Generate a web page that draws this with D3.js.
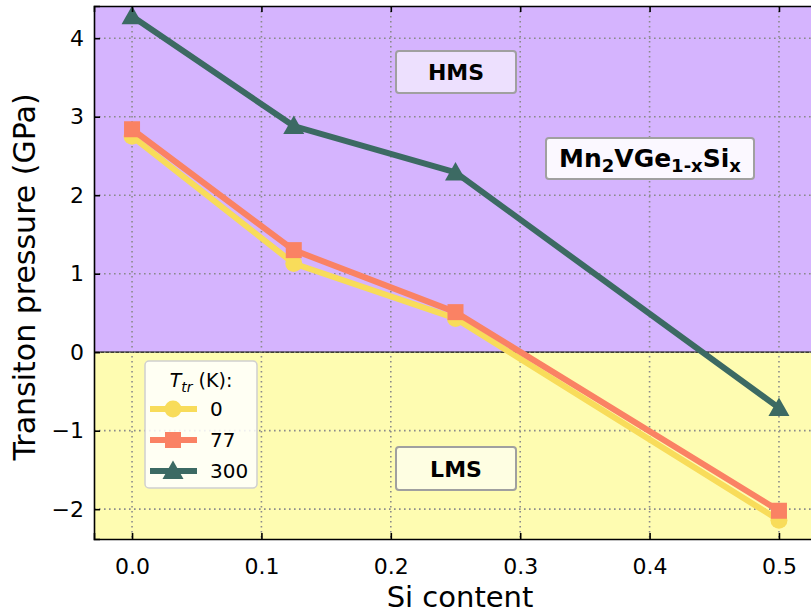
<!DOCTYPE html>
<html>
<head>
<meta charset="utf-8">
<script src="https://cdn.jsdelivr.net/npm/d3@7"></script>
<style>
  body { margin: 0; background: #fff; }
  svg { font-family: "DejaVu Sans", sans-serif; }
</style>
</head>
<body>
<div id="chart"></div>
<script>
// data
var siContent = [0, 0.125, 0.25, 0.5];
var p0K   = [2.75, 1.13, 0.43, -2.14];
var p77K  = [2.84, 1.30, 0.51, -2.02];
var p300K = [4.28, 2.88, 2.29, -0.71];
var seriesNames = ["0", "77", "300"];
var xTicks = [0, 0.1, 0.2, 0.3, 0.4, 0.5];
var yTicks = [-2, -1, 0, 1, 2, 3, 4];

var width = 811, height = 614;
var colors = ["#f8dc5a", "#fa8264", "#3c6a63"];
var shapes = ["circle", "square", "triangle"];

var x = d3.scaleLinear().domain([-0.0294, 0.5294]).range([94, 817]);
var y = d3.scaleLinear().domain([-2.38, 4.41]).range([539, 6]);

var svg = d3.select("#chart").append("svg")
    .attr("width", width)
    .attr("height", height);

// background regions
svg.append("rect")
    .attr("x", x(-0.0294)).attr("y", y(4.41))
    .attr("width", x(0.5294) - x(-0.0294)).attr("height", y(0) - y(4.41))
    .attr("fill", "#d5b4fe");
svg.append("rect")
    .attr("x", x(-0.0294)).attr("y", y(0))
    .attr("width", x(0.5294) - x(-0.0294)).attr("height", y(-2.38) - y(0))
    .attr("fill", "#fefcb1");
svg.append("line")
    .attr("x1", x(-0.0294)).attr("x2", x(0.5294))
    .attr("y1", y(0)).attr("y2", y(0))
    .attr("stroke", "#000").attr("stroke-width", 1.3);

// grid
var grid = svg.append("g").attr("class", "grid");
grid.selectAll("line.gx").data(xTicks).enter().append("line")
    .attr("x1", function(d) { return x(d); }).attr("x2", function(d) { return x(d); })
    .attr("y1", y(4.41)).attr("y2", y(-2.38))
    .attr("stroke", "#8a8a8a").attr("stroke-width", 1.6)
    .attr("stroke-dasharray", "1.6,3.4");
grid.selectAll("line.gy").data(yTicks).enter().append("line")
    .attr("x1", x(-0.0294)).attr("x2", x(0.5294))
    .attr("y1", function(d) { return y(d); }).attr("y2", function(d) { return y(d); })
    .attr("stroke", "#8a8a8a").attr("stroke-width", 1.6)
    .attr("stroke-dasharray", "1.6,3.4");

// text boxes
function labelBox(cx, cy, w, h, fill) {
  svg.append("rect")
      .attr("x", cx - w / 2).attr("y", cy - h / 2)
      .attr("width", w).attr("height", h)
      .attr("rx", 3)
      .attr("fill", fill).attr("stroke", "#a0a0a0").attr("stroke-width", 2);
}
labelBox(456, 72, 120, 42, "#ede0fe");
svg.append("text").attr("x", 456).attr("y", 80).attr("text-anchor", "middle")
    .attr("font-size", 22).attr("font-weight", "bold").text("HMS");
labelBox(456, 468.5, 120, 43, "#fefee2");
svg.append("text").attr("x", 456).attr("y", 477).attr("text-anchor", "middle")
    .attr("font-size", 22).attr("font-weight", "bold").text("LMS");
labelBox(650, 158.5, 208, 41, "#fbf8ff");
var formula = svg.append("text").attr("x", 650).attr("y", 167).attr("text-anchor", "middle")
    .attr("font-size", 25).attr("font-weight", "bold");
formula.append("tspan").text("Mn");
formula.append("tspan").attr("font-size", 18).attr("dy", 5).text("2");
formula.append("tspan").attr("dy", -5).text("VGe");
formula.append("tspan").attr("font-size", 18).attr("dy", 5).text("1-x");
formula.append("tspan").attr("dy", -5).text("Si");
formula.append("tspan").attr("font-size", 18).attr("dy", 5).text("x");

// series
var series = [p0K, p77K, p300K];
var line = d3.line()
    .x(function(d, i) { return x(siContent[i]); })
    .y(function(d) { return y(d); });

function marker(g, kind, color) {
  if (kind === "circle") {
    g.append("circle").attr("r", 8.5).attr("fill", color);
  } else if (kind === "square") {
    g.append("rect").attr("x", -8).attr("y", -8).attr("width", 16).attr("height", 16).attr("fill", color);
  } else {
    g.append("path").attr("d", "M0,-10.5L10.5,8L-10.5,8Z").attr("fill", color);
  }
}

series.forEach(function(vals, k) {
  var g = svg.append("g");
  g.append("path")
      .datum(vals)
      .attr("d", line)
      .attr("fill", "none")
      .attr("stroke", colors[k])
      .attr("stroke-width", 6)
      .attr("stroke-linejoin", "round");
  vals.forEach(function(v, i) {
    var m = g.append("g").attr("transform", "translate(" + x(siContent[i]) + "," + y(v) + ")");
    marker(m, shapes[k], colors[k]);
  });
});

// axes with inward ticks
var xAxis = svg.append("g").attr("transform", "translate(0," + y(-2.38) + ")")
    .call(d3.axisBottom(x).tickValues(xTicks).tickSize(-6).tickPadding(19).tickFormat(d3.format(".1f")));
var xTop = svg.append("g").attr("transform", "translate(0," + y(4.41) + ")")
    .call(d3.axisTop(x).tickValues(xTicks).tickSize(-6).tickFormat(""));
var yAxis = svg.append("g").attr("transform", "translate(" + x(-0.0294) + ",0)")
    .call(d3.axisLeft(y).tickValues(yTicks).tickSize(-6).tickPadding(10)
      .tickFormat(function(d) { return d < 0 ? "\u2212" + Math.abs(d) : d; }));
[xAxis, xTop, yAxis].forEach(function(a) {
  a.select(".domain").attr("stroke", "#000").attr("stroke-width", 1.6);
  a.selectAll(".tick line").attr("stroke", "#000").attr("stroke-width", 1.6);
  a.selectAll(".tick text").attr("font-size", 22).attr("fill", "#000")
      .attr("font-family", "DejaVu Sans, sans-serif");
});

// axis titles
svg.append("text").attr("x", 460).attr("y", 607).attr("text-anchor", "middle")
    .attr("font-size", 29).text("Si content");
svg.append("text").attr("transform", "translate(35,277) rotate(-90)")
    .attr("text-anchor", "middle").attr("font-size", 30).text("Transiton pressure (GPa)");

// legend
var lg = svg.append("g").attr("transform", "translate(145,361)");
lg.append("rect").attr("width", 112).attr("height", 127).attr("rx", 4)
    .attr("fill", "#fff").attr("fill-opacity", 0.85).attr("stroke", "#d0d0d0").attr("stroke-width", 1.5);
var title = lg.append("text").attr("x", 56).attr("y", 26).attr("text-anchor", "middle").attr("font-size", 19);
title.append("tspan").attr("font-style", "italic").text("T");
title.append("tspan").attr("font-style", "italic").attr("font-size", 14).attr("dy", 5).text("tr");
title.append("tspan").attr("dy", -5).text(" (K):");
seriesNames.forEach(function(name, k) {
  var row = lg.append("g").attr("transform", "translate(0," + (48 + k * 31) + ")");
  row.append("line").attr("x1", 5).attr("x2", 52).attr("stroke", colors[k]).attr("stroke-width", 6);
  var m = row.append("g").attr("transform", "translate(28,0)");
  marker(m, shapes[k], colors[k]);
  row.append("text").attr("x", 65).attr("y", 7).attr("font-size", 20).text(name);
});
</script>
</body>
</html>
